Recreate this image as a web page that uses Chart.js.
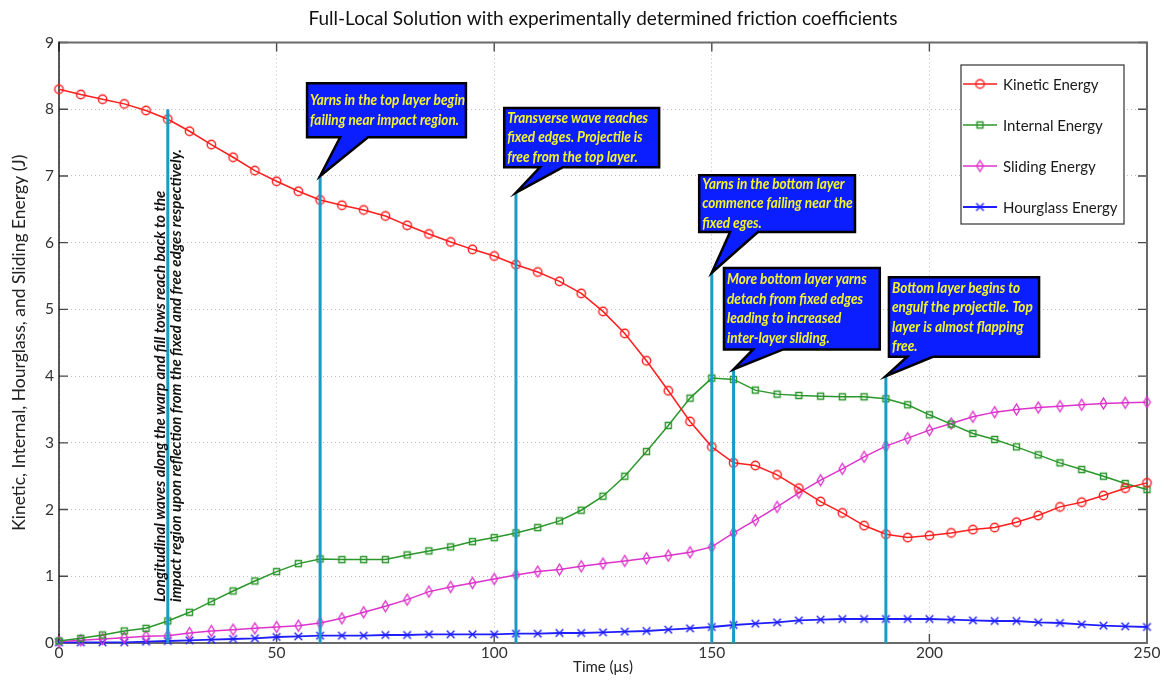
<!DOCTYPE html>
<html>
<head>
<meta charset="utf-8">
<script src="https://cdn.jsdelivr.net/npm/chart.js@4.4.1/dist/chart.umd.min.js"></script>
<style>
  html, body { margin: 0; padding: 0; background: #ffffff; }
  #wrap { width: 1165px; height: 681px; position: relative; }
</style>
</head>
<body>
<div id="wrap"><canvas id="energyChart" width="1165" height="681"></canvas></div>
<script>
// ---- Data (time in microseconds, energies in J) ----
const timeUs = [0, 5, 10, 15, 20, 25, 30, 35, 40, 45, 50, 55, 60, 65, 70, 75, 80, 85, 90, 95,
  100, 105, 110, 115, 120, 125, 130, 135, 140, 145, 150, 155, 160, 165, 170, 175, 180, 185, 190, 195,
  200, 205, 210, 215, 220, 225, 230, 235, 240, 245, 250];

const kineticEnergy = [8.30, 8.22, 8.15, 8.08, 7.98, 7.85, 7.67, 7.47, 7.28, 7.08, 6.92, 6.77, 6.64, 6.56, 6.49, 6.40, 6.26, 6.13, 6.01, 5.90,
  5.80, 5.67, 5.56, 5.42, 5.24, 4.97, 4.64, 4.23, 3.78, 3.32, 2.94, 2.70, 2.66, 2.52, 2.32, 2.12, 1.95, 1.76, 1.63, 1.58,
  1.61, 1.65, 1.70, 1.73, 1.81, 1.91, 2.04, 2.11, 2.21, 2.32, 2.40];

const internalEnergy = [0.03, 0.07, 0.12, 0.18, 0.22, 0.33, 0.46, 0.62, 0.78, 0.93, 1.07, 1.19, 1.26, 1.25, 1.25, 1.25, 1.32, 1.38, 1.44, 1.52,
  1.58, 1.65, 1.73, 1.83, 1.99, 2.20, 2.50, 2.87, 3.26, 3.67, 3.97, 3.95, 3.79, 3.73, 3.71, 3.70, 3.69, 3.69, 3.66, 3.57,
  3.42, 3.28, 3.14, 3.05, 2.94, 2.82, 2.70, 2.60, 2.50, 2.39, 2.30];

const slidingEnergy = [0.02, 0.04, 0.06, 0.08, 0.10, 0.11, 0.15, 0.18, 0.20, 0.22, 0.24, 0.26, 0.30, 0.37, 0.46, 0.55, 0.65, 0.77, 0.84, 0.90,
  0.96, 1.02, 1.07, 1.10, 1.15, 1.19, 1.23, 1.27, 1.31, 1.36, 1.44, 1.65, 1.84, 2.04, 2.25, 2.44, 2.61, 2.79, 2.95, 3.07,
  3.19, 3.29, 3.39, 3.46, 3.50, 3.53, 3.55, 3.57, 3.59, 3.60, 3.61];

const hourglassEnergy = [0.01, 0.01, 0.01, 0.01, 0.02, 0.03, 0.04, 0.05, 0.06, 0.07, 0.09, 0.10, 0.11, 0.11, 0.11, 0.12, 0.12, 0.13, 0.13, 0.13,
  0.13, 0.14, 0.14, 0.15, 0.15, 0.16, 0.17, 0.18, 0.20, 0.22, 0.24, 0.27, 0.29, 0.31, 0.34, 0.35, 0.36, 0.36, 0.36, 0.36,
  0.36, 0.35, 0.34, 0.33, 0.33, 0.31, 0.30, 0.28, 0.26, 0.25, 0.24];

const seriesLabels = ['Kinetic Energy', 'Internal Energy', 'Sliding Energy', 'Hourglass Energy'];
const xTickValues = [0, 50, 100, 150, 200, 250];
const yTickValues = [0, 1, 2, 3, 4, 5, 6, 7, 8, 9];

// Event markers: time of each event and the height of its vertical marker line
const eventTimes = [25, 60, 105, 150, 155, 190];
const eventTops = [8, 7, 6.75, 5.55, 4.1, 4.0];

const eventNoteVertical = [
  'Longitudinal waves along the warp and fill tows reach back to the',
  'impact region upon reflection from the fixed and free edges respectively.'
];
const eventNotes = [
  ['Yarns in the top layer begin', 'failing near impact region.'],
  ['Transverse wave reaches', 'fixed edges. Projectile is', 'free from the top layer.'],
  ['Yarns in the bottom layer', 'commence failing near the', 'fixed eges.'],
  ['More bottom layer yarns', 'detach from fixed edges', 'leading to increased', 'inter-layer sliding.'],
  ['Bottom layer begins to', 'engulf the projectile. Top', 'layer is almost flapping', 'free.']
];

// ---- Layout of the callout boxes (axis units: left, top, right, bottom, tail base from/to) ----
const calloutLayout = [
  { l: 57.0, t: 8.39, r: 93.5, b: 7.58, ta: 64.6, tb: 71.0, ev: 1 },
  { l: 102.3, t: 8.02, r: 137.9, b: 7.13, ta: 110.5, tb: 115.8, ev: 2 },
  { l: 147.1, t: 7.01, r: 182.9, b: 6.16, ta: 154.2, tb: 160.6, ev: 3 },
  { l: 152.8, t: 5.62, r: 188.6, b: 4.40, ta: 159.5, tb: 166.4, ev: 4 },
  { l: 190.7, t: 5.48, r: 225.2, b: 4.29, ta: 194.9, tb: 200.8, ev: 5 }
];

// ---- Styles ----
const seriesColors = ['#ff1e1e', '#2b962b', '#dd33cc', '#1e1eff'];
const markerKinds = ['circle', 'square', 'diamond', 'cross'];
const FONT_UI = 'Lato, "Open Sans", sans-serif';
const FONT_NOTE = 'Lato, "Open Sans", sans-serif';

// Hollow markers rendered into small canvases
function makeMarker(kind, color) {
  const c = document.createElement('canvas');
  const w = 15, h = 15;
  c.width = w; c.height = h;
  const g = c.getContext('2d');
  g.strokeStyle = color;
  g.lineWidth = 1.4;
  const cx = w / 2, cy = h / 2;
  g.beginPath();
  if (kind === 'circle') {
    g.arc(cx, cy, 4.2, 0, Math.PI * 2);
  } else if (kind === 'square') {
    g.rect(cx - 3, cy - 3, 6, 6);
  } else if (kind === 'diamond') {
    g.moveTo(cx, cy - 5.5); g.lineTo(cx + 3.3, cy); g.lineTo(cx, cy + 5.5); g.lineTo(cx - 3.3, cy); g.closePath();
  } else {
    g.moveTo(cx - 3.8, cy - 3.8); g.lineTo(cx + 3.8, cy + 3.8);
    g.moveTo(cx + 3.8, cy - 3.8); g.lineTo(cx - 3.8, cy + 3.8);
  }
  g.stroke();
  return c;
}
const markers = markerKinds.map((k, i) => makeMarker(k, seriesColors[i]));

function toPoints(values) {
  return timeUs.map((t, i) => ({ x: t, y: values[i] }));
}
const seriesValues = [kineticEnergy, internalEnergy, slidingEnergy, hourglassEnergy];

const datasets = seriesValues.map((vals, i) => ({
  label: seriesLabels[i],
  data: toPoints(vals),
  borderColor: seriesColors[i],
  backgroundColor: 'transparent',
  borderWidth: i === 3 ? 1.8 : 1.5,
  pointStyle: markers[i],
  pointRadius: 4,
  pointHoverRadius: 4,
  tension: 0,
  clip: false
}));

// Axis box with inward tick marks on all four sides
const framePlugin = {
  id: 'frame',
  beforeDatasetsDraw(chart) {
    const { ctx, chartArea: a, scales } = chart;
    ctx.save();
    ctx.strokeStyle = '#4a4a4a';
    ctx.lineWidth = 1.4;
    const tl = 9;
    ctx.beginPath();
    xTickValues.forEach(v => {
      const x = scales.x.getPixelForValue(v);
      ctx.moveTo(x, a.bottom); ctx.lineTo(x, a.bottom - tl);
      ctx.moveTo(x, a.top); ctx.lineTo(x, a.top + tl);
    });
    yTickValues.forEach(v => {
      const y = scales.y.getPixelForValue(v);
      ctx.moveTo(a.left, y); ctx.lineTo(a.left + tl, y);
      ctx.moveTo(a.right, y); ctx.lineTo(a.right - tl, y);
    });
    ctx.stroke();
    // top, right and bottom edges
    ctx.strokeStyle = '#6a6a6a';
    ctx.lineWidth = 2;
    ctx.beginPath();
    ctx.moveTo(a.left, a.top); ctx.lineTo(a.right, a.top); ctx.lineTo(a.right, a.bottom); ctx.lineTo(a.left, a.bottom);
    ctx.stroke();
    // left edge
    ctx.strokeStyle = '#000000';
    ctx.lineWidth = 1.3;
    ctx.beginPath();
    ctx.moveTo(a.left, a.top - 1); ctx.lineTo(a.left, a.bottom + 1);
    ctx.stroke();
    ctx.restore();
  }
};

// Horizontal squeeze factor so a sample line spans the wanted width
function squeezeFor(ctx, font, text, targetWidth) {
  ctx.font = font;
  return Math.min(1, targetWidth / ctx.measureText(text).width);
}
function fillSqueezed(ctx, text, x, y, sx) {
  ctx.save();
  ctx.translate(x, y);
  ctx.scale(sx, 1);
  ctx.fillText(text, 0, 0);
  ctx.restore();
}

// Event lines, callouts, vertical note and legend
const notesPlugin = {
  id: 'notes',
  afterDatasetsDraw(chart) {
    const { ctx, chartArea: a, scales } = chart;
    const xs = scales.x, ys = scales.y;
    ctx.save();

    // vertical event lines
    ctx.strokeStyle = '#1b9ac6';
    ctx.lineWidth = 3;
    eventTimes.forEach((t, i) => {
      const x = xs.getPixelForValue(t);
      ctx.beginPath();
      ctx.moveTo(x, ys.getPixelForValue(0));
      ctx.lineTo(x, ys.getPixelForValue(eventTops[i]));
      ctx.stroke();
    });

    // vertical note beside the first event line
    const vx = xs.getPixelForValue(eventTimes[0]);
    const vFont = `italic bold 15px ${FONT_NOTE}`;
    const vsx = squeezeFor(ctx, vFont, eventNoteVertical[1], 490);
    ctx.font = vFont;
    ctx.fillStyle = '#111111';
    ctx.textAlign = 'left';
    ctx.textBaseline = 'middle';
    const vy = ys.getPixelForValue(0) - 41;
    [[eventNoteVertical[0], vx - 7.5], [eventNoteVertical[1], vx + 8.5]].forEach(([txt, cx]) => {
      ctx.save();
      ctx.translate(cx, vy);
      ctx.rotate(-Math.PI / 2);
      fillSqueezed(ctx, txt, 0, 0, vsx);
      ctx.restore();
    });

    // callout boxes
    const nFont = `italic bold 15px ${FONT_NOTE}`;
    const nsx = squeezeFor(ctx, nFont, eventNotes[0][0], 155);
    calloutLayout.forEach((c, k) => {
      const L = xs.getPixelForValue(c.l), R = xs.getPixelForValue(c.r);
      const T = ys.getPixelForValue(c.t), B = ys.getPixelForValue(c.b);
      const tipX = xs.getPixelForValue(eventTimes[c.ev]);
      const tipY = ys.getPixelForValue(eventTops[c.ev]);
      const A = xs.getPixelForValue(c.ta), Bt = xs.getPixelForValue(c.tb);
      ctx.beginPath();
      ctx.moveTo(L, T); ctx.lineTo(R, T); ctx.lineTo(R, B);
      ctx.lineTo(Bt, B); ctx.lineTo(tipX, tipY); ctx.lineTo(A, B);
      ctx.lineTo(L, B); ctx.closePath();
      ctx.fillStyle = '#0a1eff';
      ctx.fill();
      ctx.lineJoin = 'miter';
      ctx.strokeStyle = '#000000';
      ctx.lineWidth = 2.5;
      ctx.stroke();
      const lines = eventNotes[k];
      ctx.font = nFont;
      ctx.fillStyle = '#f4f42a';
      ctx.textAlign = 'left';
      ctx.textBaseline = 'middle';
      const lh = 19.6;
      const y0 = (T + B) / 2 - (lines.length - 1) * lh / 2;
      lines.forEach((s, j) => fillSqueezed(ctx, s, L + 3, y0 + j * lh, nsx));
    });

    // legend
    const lgL = a.right - 186, lgT = a.top + 22.5, lgW = 163, lgH = 159;
    ctx.fillStyle = '#ffffff';
    ctx.fillRect(lgL, lgT, lgW, lgH);
    ctx.strokeStyle = '#333333';
    ctx.lineWidth = 1.2;
    ctx.strokeRect(lgL, lgT, lgW, lgH);
    ctx.font = `15px ${FONT_UI}`;
    ctx.textAlign = 'left';
    ctx.textBaseline = 'middle';
    chart.data.datasets.forEach((ds, i) => {
      const y = lgT + 19 + i * 41;
      ctx.strokeStyle = ds.borderColor;
      ctx.lineWidth = ds.borderWidth;
      ctx.beginPath();
      ctx.moveTo(lgL + 2, y); ctx.lineTo(lgL + 36, y);
      ctx.stroke();
      const m = ds.pointStyle;
      ctx.drawImage(m, lgL + 19 - m.width / 2, y - m.height / 2);
      ctx.fillStyle = '#1a1a1a';
      ctx.fillText(ds.label, lgL + 42, y + 1);
    });
    ctx.restore();
  }
};

new Chart(document.getElementById('energyChart'), {
  type: 'line',
  data: { datasets },
  options: {
    responsive: false,
    animation: false,
    devicePixelRatio: 1,
    layout: { padding: { left: 0, right: 18, top: 0, bottom: 0 } },
    plugins: {
      legend: { display: false },
      tooltip: { enabled: false },
      title: {
        display: true,
        text: 'Full-Local Solution with experimentally determined friction coefficients',
        color: '#111111',
        font: { family: FONT_UI, size: 19, weight: 'normal' },
        padding: { top: 7, bottom: 12.7 },
        fullSize: false
      }
    },
    scales: {
      x: {
        type: 'linear',
        min: 0, max: 250,
        afterBuildTicks(s) { s.ticks = xTickValues.map(v => ({ value: v })); },
        afterFit(s) { s.height = 38; },
        ticks: { color: '#333333', font: { family: FONT_UI, size: 15.5 }, padding: 1, maxRotation: 0 },
        grid: { color: '#bdbdbd', lineWidth: 1, drawTicks: false },
        border: { display: false, dash: [1, 3] },
        title: { display: true, text: 'Time (\u03bcs)', color: '#222222', font: { family: FONT_UI, size: 15 }, padding: { top: 0, bottom: 5 } }
      },
      y: {
        type: 'linear',
        min: 0, max: 9,
        afterBuildTicks(s) { s.ticks = yTickValues.map(v => ({ value: v })); },
        afterFit(s) { s.width = 59; },
        ticks: { color: '#333333', font: { family: FONT_UI, size: 15.5 }, padding: 5 },
        grid: { color: '#bdbdbd', lineWidth: 1, drawTicks: false },
        border: { display: false, dash: [1, 3] },
        title: { display: true, text: 'Kinetic, Internal, Hourglass, and Sliding Energy (J)', color: '#222222', font: { family: FONT_UI, size: 17.5 }, padding: { top: 8.5, bottom: 0 } }
      }
    }
  },
  plugins: [framePlugin, notesPlugin]
});
</script>
</body>
</html>
